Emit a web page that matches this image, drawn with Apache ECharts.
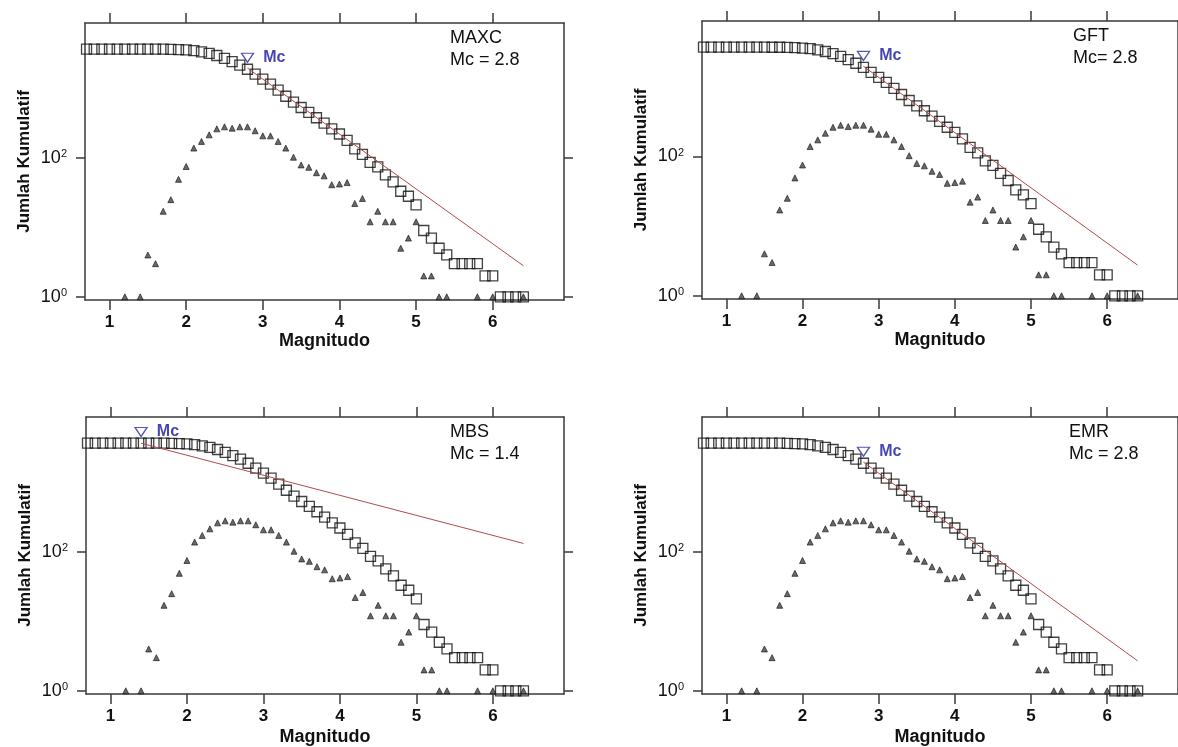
<!DOCTYPE html>
<html>
<head>
<meta charset="utf-8">
<title>Jumlah Kumulatif - Magnitudo</title>
<script src="https://cdn.jsdelivr.net/npm/echarts@6/dist/echarts.min.js"></script>
<style>
    html, body { margin: 0; padding: 0; background: #fff; }
    #chart { width: 1178px; height: 747px; }
</style>
</head>
<body>
<div id="chart"></div>
<script>
// bins magnitudo (langkah 0.1)
var magBins = [0.7, 0.8, 0.9,
    1.0, 1.1, 1.2, 1.3, 1.4, 1.5, 1.6, 1.7, 1.8, 1.9,
    2.0, 2.1, 2.2, 2.3, 2.4, 2.5, 2.6, 2.7, 2.8, 2.9,
    3.0, 3.1, 3.2, 3.3, 3.4, 3.5, 3.6, 3.7, 3.8, 3.9,
    4.0, 4.1, 4.2, 4.3, 4.4, 4.5, 4.6, 4.7, 4.8, 4.9,
    5.0, 5.1, 5.2, 5.3, 5.4, 5.5, 5.6, 5.7, 5.8, 5.9,
    6.0, 6.1, 6.2, 6.3, 6.4];
// jumlah kumulatif (kotak)
var cumCount = [3664, 3664, 3664,
    3664, 3664, 3664, 3663, 3663, 3662, 3658, 3655, 3638, 3613,
    3564, 3489, 3351, 3179, 2965, 2704, 2425, 2158, 1879, 1600,
    1355, 1148, 941, 769, 631, 529, 450, 377, 316, 261,
    220, 178, 134, 112, 86, 74, 57, 45, 33, 28,
    21, 9, 7, 5, 4, 3, 3, 3, 3, 2,
    2, 1, 1, 1, 1];
// jumlah per bin (segitiga)
var freqMag = [1.2, 1.4, 1.5, 1.6, 1.7, 1.8, 1.9,
    2.0, 2.1, 2.2, 2.3, 2.4, 2.5, 2.6, 2.7, 2.8, 2.9,
    3.0, 3.1, 3.2, 3.3, 3.4, 3.5, 3.6, 3.7, 3.8, 3.9,
    4.0, 4.1, 4.2, 4.3, 4.4, 4.5, 4.6, 4.7, 4.8, 4.9,
    5.0, 5.1, 5.2, 5.3, 5.4, 5.8, 6.0, 6.4];
var freqCount = [1, 1, 4, 3, 17, 25, 49,
    75, 138, 172, 214, 261, 279, 267, 279, 279, 245,
    207, 207, 172, 138, 102, 79, 73, 61, 55, 41,
    42, 44, 22, 26, 12, 17, 12, 12, 5, 7,
    12, 2, 2, 1, 1, 1, 1, 1];

var xTicks = [1, 2, 3, 4, 5, 6];
var yTicks = [1, 100];

// per panel: MAXC, GFT, MBS, EMR
var methodNames = ['MAXC', 'GFT', 'MBS', 'EMR'];
var mcTexts = ['Mc = 2.8', 'Mc= 2.8', 'Mc = 1.4', 'Mc = 2.8'];
var mcValues = [2.8, 2.8, 1.4, 2.8];
var mcMarkN = [2750, 2750, 5300, 2750];
var fitStartN = [1950, 1950, 3650, 1950];
var fitEndMag = [6.4, 6.4, 6.4, 6.4];
var fitEndN = [2.8, 2.75, 132, 2.7];

var FONT = '"Liberation Sans", Arial, sans-serif';
var AXIS_COLOR = '#3a3a3a';

var layouts = [
    { left: 85, top: 23, width: 479, height: 277, textLeft: 450, textTop: 27, nameGap: 25 },
    { left: 702, top: 21, width: 479, height: 278, textLeft: 1073, textTop: 25, nameGap: 25 },
    { left: 86, top: 417, width: 478, height: 277, textLeft: 450, textTop: 421, nameGap: 34 },
    { left: 702, top: 417, width: 479, height: 277, textLeft: 1069, textTop: 421, nameGap: 34 }
];

var lineStyle = { color: AXIS_COLOR, width: 1.5 };

var option = {
    backgroundColor: '#fff',
    animation: false,
    title: [],
    grid: [],
    xAxis: [],
    yAxis: [],
    series: []
};

layouts.forEach(function(lay, i) {
    option.grid.push({ left: lay.left, top: lay.top, width: lay.width, height: lay.height });

    option.title.push({
        text: methodNames[i] + '\n' + mcTexts[i],
        left: lay.textLeft,
        top: lay.textTop,
        padding: 0,
        textStyle: { fontFamily: FONT, fontSize: 18, fontWeight: 'normal', color: '#111', lineHeight: 22 }
    });

    // sumbu bawah + atas
    option.xAxis.push({
        type: 'value', gridIndex: i, position: 'bottom', min: 0.68, max: 6.93,
        name: 'Magnitudo', nameLocation: 'middle', nameGap: lay.nameGap,
        nameTextStyle: { fontFamily: FONT, fontSize: 18, fontWeight: 'bold', color: '#111' },
        axisLine: { show: true, onZero: false, lineStyle: lineStyle },
        axisTick: { show: true, length: 10, customValues: xTicks, lineStyle: lineStyle },
        axisLabel: { customValues: xTicks, margin: 14, fontFamily: FONT, fontSize: 17, fontWeight: 'bold', color: '#111' },
        splitLine: { show: false }
    });
    option.xAxis.push({
        type: 'value', gridIndex: i, position: 'top', min: 0.68, max: 6.93,
        axisLine: { show: true, onZero: false, lineStyle: lineStyle },
        axisTick: { show: true, length: 10, customValues: xTicks, lineStyle: lineStyle },
        axisLabel: { show: false },
        splitLine: { show: false }
    });

    // sumbu kiri + kanan (log)
    option.yAxis.push({
        type: 'log', logBase: 10, gridIndex: i, position: 'left', min: 0.9, max: 8700,
        name: 'Jumlah Kumulatif', nameLocation: 'middle', nameGap: 52,
        nameTextStyle: { fontFamily: FONT, fontSize: 17, fontWeight: 'bold', color: '#111' },
        axisLine: { show: true, onZero: false, lineStyle: lineStyle },
        axisTick: { show: true, length: 9, customValues: yTicks, lineStyle: lineStyle },
        axisLabel: {
            customValues: yTicks, margin: 18,
            formatter: function(v) {
                return '{b|10}{s|' + Math.round(Math.log10(v)) + '}';
            },
            rich: {
                b: { fontFamily: FONT, fontSize: 18, color: '#111' },
                s: { fontFamily: FONT, fontSize: 11, color: '#111', verticalAlign: 'top' }
            }
        },
        splitLine: { show: false }
    });
    option.yAxis.push({
        type: 'log', logBase: 10, gridIndex: i, position: 'right', min: 0.9, max: 8700,
        axisLine: { show: true, onZero: false, lineStyle: lineStyle },
        axisTick: { show: true, length: 9, customValues: yTicks, lineStyle: lineStyle },
        axisLabel: { show: false },
        splitLine: { show: false }
    });

    var xi = i * 2;

    option.series.push({
        type: 'scatter', xAxisIndex: xi, yAxisIndex: xi, silent: true,
        symbol: 'rect', symbolSize: 10,
        itemStyle: { color: 'rgba(0,0,0,0)', borderColor: '#111', borderWidth: 1.3 },
        data: magBins.map(function(m, k) { return [m, cumCount[k]]; })
    });
    option.series.push({
        type: 'scatter', xAxisIndex: xi, yAxisIndex: xi, silent: true,
        symbol: 'triangle', symbolSize: [6, 6],
        itemStyle: { color: '#444', borderColor: '#111', borderWidth: 0.8 },
        data: freqMag.map(function(m, k) { return [m, freqCount[k]]; })
    });
    option.series.push({
        type: 'line', xAxisIndex: xi, yAxisIndex: xi, silent: true,
        symbol: 'none', z: 4,
        lineStyle: { color: '#b24a4a', width: 1 },
        data: [[mcValues[i], fitStartN[i]], [fitEndMag[i], fitEndN[i]]]
    });
    option.series.push({
        type: 'scatter', xAxisIndex: xi, yAxisIndex: xi, silent: true,
        symbol: 'triangle', symbolRotate: 180, symbolSize: [12, 9], z: 5,
        itemStyle: { color: 'rgba(0,0,0,0)', borderColor: '#2a2aa0', borderWidth: 1.3 },
        label: {
            show: true, position: 'right', distance: 9, formatter: 'Mc',
            fontFamily: FONT, fontSize: 16, fontWeight: 'bold', color: '#1515a0'
        },
        data: [[mcValues[i], mcMarkN[i]]]
    });
});

var myChart = echarts.init(document.getElementById('chart'), null, { renderer: 'canvas' });
myChart.setOption(option);
</script>
</body>
</html>
